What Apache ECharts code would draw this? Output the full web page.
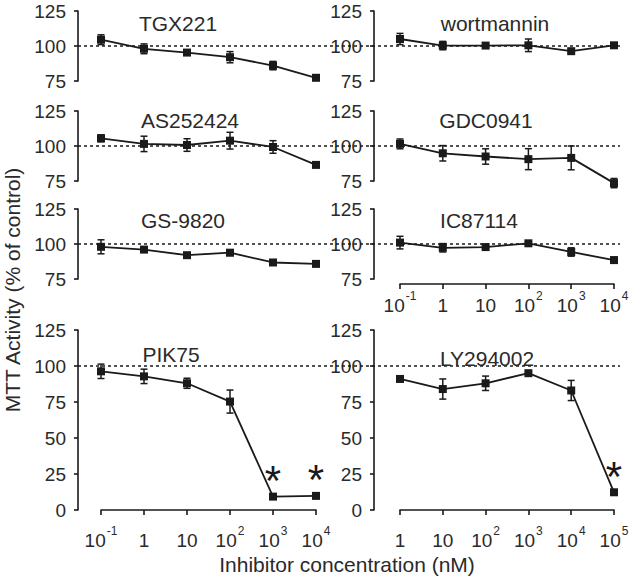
<!DOCTYPE html>
<html>
<head>
<meta charset="utf-8">
<script src="https://cdn.jsdelivr.net/npm/echarts@6/dist/echarts.min.js"></script>
<style>html,body{margin:0;padding:0;background:#fff}#c{width:633px;height:580px}</style>
</head>
<body>
<div id="c"></div>
<script>
// ---- data ----
const concA = ['10^-1', '1', '10', '10^2', '10^3', '10^4'];
const concLY = ['1', '10', '10^2', '10^3', '10^4', '10^5'];
const refLevel = 100;
const yRangeSmall = [75, 125];
const yRangeLarge = [0, 125];
const yStep = 25;

const tgxMean = [104.5, 98, 95.3, 92, 86, 77.3];
const tgxErr  = [3.5, 3.5, 1, 4, 3, 1];
const wortMean = [105, 100.3, 100.3, 100.5, 96.3, 100.5];
const wortErr  = [4, 3, 1.5, 4.5, 1.5, 1];
const asMean = [105.5, 101.5, 100.7, 103.8, 99.3, 86.5];
const asErr  = [2.5, 5.5, 4.5, 6, 4.5, 1];
const gdcMean = [101.5, 94.8, 92.5, 90.6, 91.5, 73.5];
const gdcErr  = [3.5, 5.5, 5.5, 7.5, 8.5, 3.3];
const gsMean = [98, 96, 92, 93.8, 86.8, 85.8];
const gsErr  = [5, 1, 1, 2, 1, 1];
const icMean = [101, 97.3, 97.8, 100.5, 94.3, 88.5];
const icErr  = [4.5, 3, 1.5, 1, 3, 2];
const pikMean = [96.3, 92.8, 88, 75.3, 9.3, 9.8];
const pikErr  = [5, 5, 3.5, 8, 1, 1];
const lyMean = [91, 84, 88, 95, 83, 12.3];
const lyErr  = [1, 7, 5, 1, 7, 1];
const pikSig = [4, 5];
const lySig = [5];

// ---- layout ----
const FONT = '"Liberation Sans", Arial, Helvetica, sans-serif';
const INK = '#1a1a1a';
const TXT = '#2a2a2a';
const rows = [
  {top: 11, height: 70, range: yRangeSmall},
  {top: 111, height: 70, range: yRangeSmall},
  {top: 209, height: 70, range: yRangeSmall},
  {top: 330, height: 180, range: yRangeLarge}
];
const panels = [
  {name: 'TGX221',     row: 0, col: 0, mean: tgxMean, err: tgxErr, cats: concA, xShow: false, tx: 178, ty: 24},
  {name: 'wortmannin', row: 0, col: 1, mean: wortMean, err: wortErr, cats: concA, xShow: false, tx: 495, ty: 24},
  {name: 'AS252424',   row: 1, col: 0, mean: asMean, err: asErr, cats: concA, xShow: false, tx: 190, ty: 121},
  {name: 'GDC0941',    row: 1, col: 1, mean: gdcMean, err: gdcErr, cats: concA, xShow: false, tx: 486, ty: 121},
  {name: 'GS-9820',    row: 2, col: 0, mean: gsMean, err: gsErr, cats: concA, xShow: false, tx: 183, ty: 221},
  {name: 'IC87114',    row: 2, col: 1, mean: icMean, err: icErr, cats: concA, xShow: true, xOffset: 5, xMargin: 6, tx: 479, ty: 221},
  {name: 'PIK75',      row: 3, col: 0, mean: pikMean, err: pikErr, cats: concA, xShow: true, xOffset: 1, xMargin: 14, sig: pikSig, tx: 171, ty: 355},
  {name: 'LY294002',   row: 3, col: 1, mean: lyMean, err: lyErr, cats: concLY, xShow: true, xOffset: 1, xMargin: 14, sig: lySig, tx: 487, ty: 359}
];
const cols = [
  {left: 101, right: 317, yOffset: 23},
  {left: 400, right: 19, yOffset: 26}
];

function tickFmt(v) {
  const p = v.split('^');
  if (p.length === 1) return '{b|' + v + '}';
  return '{b|' + p[0] + '}{s|' + p[1] + '}';
}

const grid = [], xAxis = [], yAxis = [], series = [], title = [];

panels.forEach((p, i) => {
  const r = rows[p.row], c = cols[p.col];
  grid.push({left: c.left, right: c.right, top: r.top, height: r.height, containLabel: false});
  xAxis.push({
    type: 'category', gridIndex: i, data: p.cats, boundaryGap: false,
    show: p.xShow, offset: p.xOffset || 0,
    axisLine: {show: true, lineStyle: {color: INK, width: 1.6}},
    axisTick: {show: true, length: 5, inside: false, lineStyle: {color: INK, width: 1.6}},
    axisLabel: {
      show: true, margin: p.xMargin || 8, color: TXT, formatter: tickFmt, interval: 0,
      rich: {
        b: {fontSize: 19, fontFamily: FONT, color: TXT, padding: [6, 0, 0, 0]},
        s: {fontSize: 12, fontFamily: FONT, color: TXT, verticalAlign: 'top', padding: [0, 0, 0, 1]}
      }
    },
    splitLine: {show: false}
  });
  yAxis.push({
    type: 'value', gridIndex: i, min: r.range[0], max: r.range[1], interval: yStep,
    offset: c.yOffset,
    axisLine: {show: true, lineStyle: {color: INK, width: 1.6}},
    axisTick: {show: true, length: 4, inside: false, lineStyle: {color: INK, width: 1.6}},
    axisLabel: {fontSize: 19, fontFamily: FONT, color: TXT, margin: 12},
    splitLine: {show: false}
  });
  // error bars
  series.push({
    type: 'custom', xAxisIndex: i, yAxisIndex: i, z: 3, clip: false,
    data: p.mean.map((m, k) => [k, m, p.err[k]]),
    renderItem: function (params, api) {
      const x = api.value(0), m = api.value(1), e = api.value(2);
      const hi = api.coord([x, m + e]);
      const lo = api.coord([x, m - e]);
      const w = 3.5;
      const st = {stroke: INK, lineWidth: 1.5};
      return {type: 'group', children: [
        {type: 'line', shape: {x1: hi[0], y1: hi[1], x2: lo[0], y2: lo[1]}, style: st},
        {type: 'line', shape: {x1: hi[0] - w, y1: hi[1], x2: hi[0] + w, y2: hi[1]}, style: st},
        {type: 'line', shape: {x1: lo[0] - w, y1: lo[1], x2: lo[0] + w, y2: lo[1]}, style: st}
      ]};
    }
  });
  const sig = p.sig || [];
  series.push({
    type: 'line', xAxisIndex: i, yAxisIndex: i, z: 4, clip: false,
    symbol: 'rect', symbolSize: 8, showAllSymbol: true,
    itemStyle: {color: INK},
    lineStyle: {color: INK, width: 1.8},
    data: p.mean.map((m, k) => sig.indexOf(k) >= 0 ? {
      value: m,
      label: {show: true, formatter: '*', position: 'top', distance: -9, fontSize: 42, fontFamily: FONT, color: INK}
    } : m),
    animation: false
  });
  title.push({
    text: p.name, left: p.tx, top: p.ty - 11, textAlign: 'center', padding: 0,
    textStyle: {fontSize: 21, fontWeight: 'normal', fontFamily: FONT, color: TXT}
  });
});

// dashed reference lines spanning both columns in each row
rows.forEach((r, j) => {
  const gi = grid.length;
  grid.push({left: 78, right: 13, top: r.top, height: r.height});
  xAxis.push({type: 'value', gridIndex: gi, min: 0, max: 1, show: false});
  yAxis.push({type: 'value', gridIndex: gi, min: r.range[0], max: r.range[1], show: false});
  series.push({
    type: 'line', xAxisIndex: gi, yAxisIndex: gi, z: 1, symbol: 'none', silent: true,
    lineStyle: {color: INK, width: 1.5, type: [3, 3]},
    data: [[0, refLevel], [1, refLevel]], animation: false
  });
});

title.push({
  text: 'Inhibitor concentration (nM)', left: 347, top: 554, textAlign: 'center', padding: 0,
  textStyle: {fontSize: 21, fontWeight: 'normal', fontFamily: FONT, color: TXT}
});

const chart = echarts.init(document.getElementById('c'), null, {renderer: 'svg', width: 633, height: 580});
chart.setOption({
  animation: false,
  backgroundColor: '#ffffff',
  title: title,
  grid, xAxis, yAxis, series,
  graphic: [{
    type: 'text', x: 12, y: 290, rotation: Math.PI / 2,
    style: {text: 'MTT Activity (% of control)', fontSize: 21, fontFamily: FONT, fill: TXT,
            align: 'center', verticalAlign: 'middle', textAlign: 'center', textVerticalAlign: 'middle'}
  }]
});
</script>
</body>
</html>
